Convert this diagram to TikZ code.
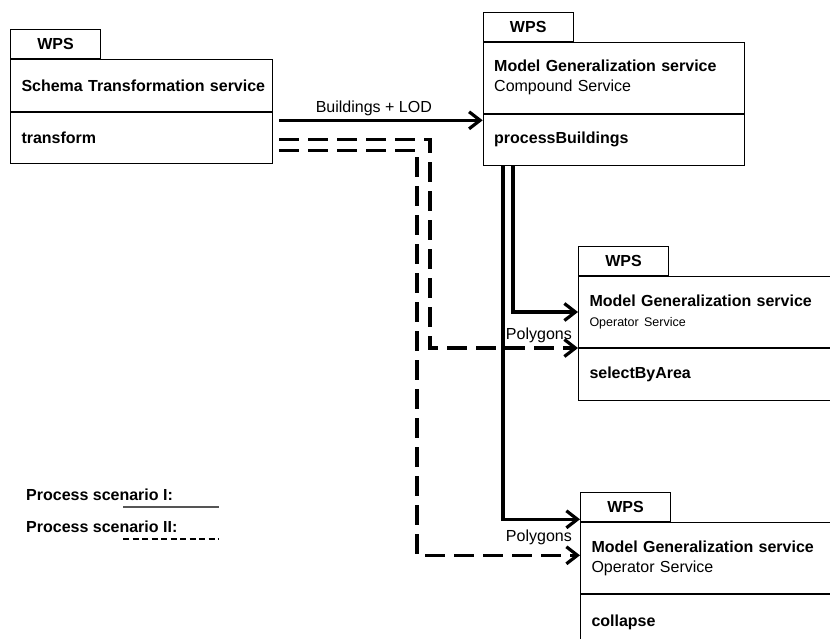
\documentclass[tikz,border=0pt]{standalone}
\usepackage{fontspec}
\setmainfont{Liberation Sans}
\usetikzlibrary{arrows.meta,calc}
\definecolor{leggray}{RGB}{85,85,85}
\newcommand\opfont{\fontsize{12.5}{15}\selectfont}

\begin{document}
\begin{tikzpicture}[x=1pt,y=-1pt]
\tikzset{
  every node/.style={font=\fontsize{16}{20}\selectfont},
  tabbox/.style={draw, line width=1pt, anchor=north west, minimum width=90pt, minimum height=29pt, inner sep=0pt, font=\fontsize{16}{20}\selectfont\bfseries},
  partbox/.style={draw, line width=1pt, anchor=north west, align=left, inner xsep=11pt, inner ysep=0pt},
  flow/.style={line width=3.2pt, -{Straight Barb[length=11pt, width=17pt]}},
  alt/.style={flow, dash pattern=on 20pt off 9pt},
  lbl/.style={inner sep=1pt},
}
\useasboundingbox (0,0) rectangle (830,638);
\clip (0,0) rectangle (830,638);

% schema transformation
\node[tabbox] (wpsA) at (10,29.3) {WPS};
\node[partbox, text width=240pt, minimum height=51.7pt, font=\fontsize{16}{20}\selectfont\bfseries] (headA) at (wpsA.south west) {\mbox{Schema Transformation service}};
\node[partbox, text width=240pt, minimum height=51pt, font=\fontsize{16}{20}\selectfont\bfseries] (opA) at (headA.south west) {transform};

% compound service
\node[tabbox] (wpsB) at (482.7,11.7) {WPS};
\node[partbox, text width=239.6pt, minimum height=71pt] (headB) at (wpsB.south west) {\textbf{Model Generalization service}\\Compound Service};
\node[partbox, text width=239.6pt, minimum height=51pt, font=\fontsize{16}{20}\selectfont\bfseries] (opB) at (headB.south west) {processBuildings};

% operator services
\node[tabbox] (wpsC) at (578,246) {WPS};
\node[partbox, text width=250pt, minimum height=71pt] (headC) at (wpsC.south west) {\textbf{Model Generalization service}\\{\opfont Operator Service}};
\node[partbox, text width=250pt, minimum height=52pt, font=\fontsize{16}{20}\selectfont\bfseries] (opC) at (headC.south west) {selectByArea};

\node[tabbox] (wpsD) at (580,492.3) {WPS};
\node[partbox, text width=248pt, minimum height=71pt] (headD) at (wpsD.south west) {\textbf{Model Generalization service}\\Operator Service};
\node[partbox, text width=248pt, minimum height=56pt, font=\fontsize{16}{20}\selectfont\bfseries] (opD) at (headD.south west) {collapse};

% connectors
\coordinate (outA) at ($(opA.north east)+(6,8.3)$);
\coordinate (outA2) at ($(opA.north east)+(6,27.3)$);
\coordinate (outA3) at ($(opA.north east)+(6,38.3)$);
\draw[flow] (outA) -- (outA -| opB.west);
\node[lbl, anchor=south] (lod) at ($(outA)!0.5!(outA -| opB.west)+(-7,-3)$) {Buildings + LOD};
\draw[alt] (outA2) -| ($(opC.north west)+(-148,0)$) -- (opC.north west);
\draw[alt] (outA3) -| ($(headD.west)+(-163,-3)$) -- ($(headD.west)+(0,-3)$);
\draw[flow] ([xshift=30.3pt]opB.south west) |- (headC.west);
\draw[flow] ([xshift=20.3pt]opB.south west) |- ([yshift=3pt]headD.north west);
\node[lbl, anchor=south east] (polyC) at ($(opC.north west)+(-5,-4)$) {Polygons};
\node[lbl, anchor=south east] (polyD) at ($(headD.west)+(-7,-12)$) {Polygons};

% legend
\node[anchor=west, inner sep=0pt, font=\fontsize{16}{20}\selectfont\bfseries] (scenI) at (26,495) {Process scenario I:};
\node[anchor=west, inner sep=0pt, font=\fontsize{16}{20}\selectfont\bfseries] (scenII) at (26,526.7) {Process scenario II:};
\coordinate (legIa) at (123,506.7);
\coordinate (legIb) at (219,506.7);
\coordinate (legIIa) at (123,539);
\coordinate (legIIb) at (219,539);
\draw[leggray, line width=2pt] (legIa) -- (legIb);
\draw[line width=2.2pt, dash pattern=on 6pt off 3.5pt] (legIIa) -- (legIIb);
\end{tikzpicture}
\end{document}
